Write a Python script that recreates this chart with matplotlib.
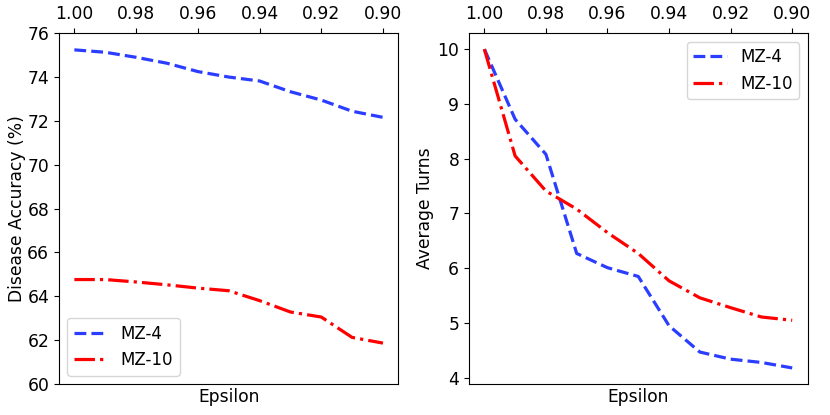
import matplotlib
matplotlib.use("Agg")
import matplotlib.pyplot as plt

epsilon = [1.00, 0.99, 0.98, 0.97, 0.96, 0.95, 0.94, 0.93, 0.92, 0.91, 0.90]
acc_mz4 = [75.24, 75.13, 74.90, 74.63, 74.25, 74.00, 73.82, 73.33, 72.95, 72.44, 72.16]
acc_mz10 = [64.76, 64.76, 64.65, 64.52, 64.37, 64.25, 63.80, 63.28, 63.05, 62.12, 61.86]
turns_mz4 = [10.0, 8.72, 8.08, 6.27, 6.01, 5.85, 4.95, 4.47, 4.34, 4.28, 4.18]
turns_mz10 = [10.0, 8.05, 7.41, 7.08, 6.65, 6.27, 5.77, 5.46, 5.28, 5.11, 5.05]
xticks = [1.00, 0.98, 0.96, 0.94, 0.92, 0.90]
labels = ["MZ-4", "MZ-10"]

blue = "#2b3dff"
red = "#ff0000"
fs = 12.3

fig = plt.figure(figsize=(8.3, 4.15), dpi=100)
ax1 = fig.add_axes([0.071, 0.075, 0.409, 0.845])
ax2 = fig.add_axes([0.565, 0.075, 0.408, 0.845])

def style(ax):
    ax.invert_xaxis()
    ax.set_xticks(xticks)
    ax.set_xticklabels([f"{t:.2f}" for t in xticks])
    ax.xaxis.tick_top()
    ax.xaxis.set_label_position("bottom")
    ax.set_xlabel("Epsilon", fontsize=fs, labelpad=3)
    ax.tick_params(labelsize=fs)

ax1.plot(epsilon, acc_mz4, linestyle="--", color=blue, linewidth=2.3, label=labels[0])
ax1.plot(epsilon, acc_mz10, linestyle="-.", color=red, linewidth=2.3, label=labels[1])
ax1.set_ylim(60, 76)
ax1.set_yticks(range(60, 77, 2))
ax1.set_ylabel("Disease Accuracy (%)", fontsize=fs)
ax1.yaxis.set_label_coords(-0.097, 0.5)
style(ax1)
ax1.legend(loc="lower left", fontsize=12)

ax2.plot(epsilon, turns_mz4, linestyle="--", color=blue, linewidth=2.3, label=labels[0])
ax2.plot(epsilon, turns_mz10, linestyle="-.", color=red, linewidth=2.3, label=labels[1])
ax2.set_yticks(range(4, 11))
ax2.set_ylabel("Average Turns", fontsize=fs)
ax2.yaxis.set_label_coords(-0.103, 0.5)
style(ax2)
ax2.legend(loc="upper right", fontsize=12)

fig.savefig("out.png", dpi=100)
